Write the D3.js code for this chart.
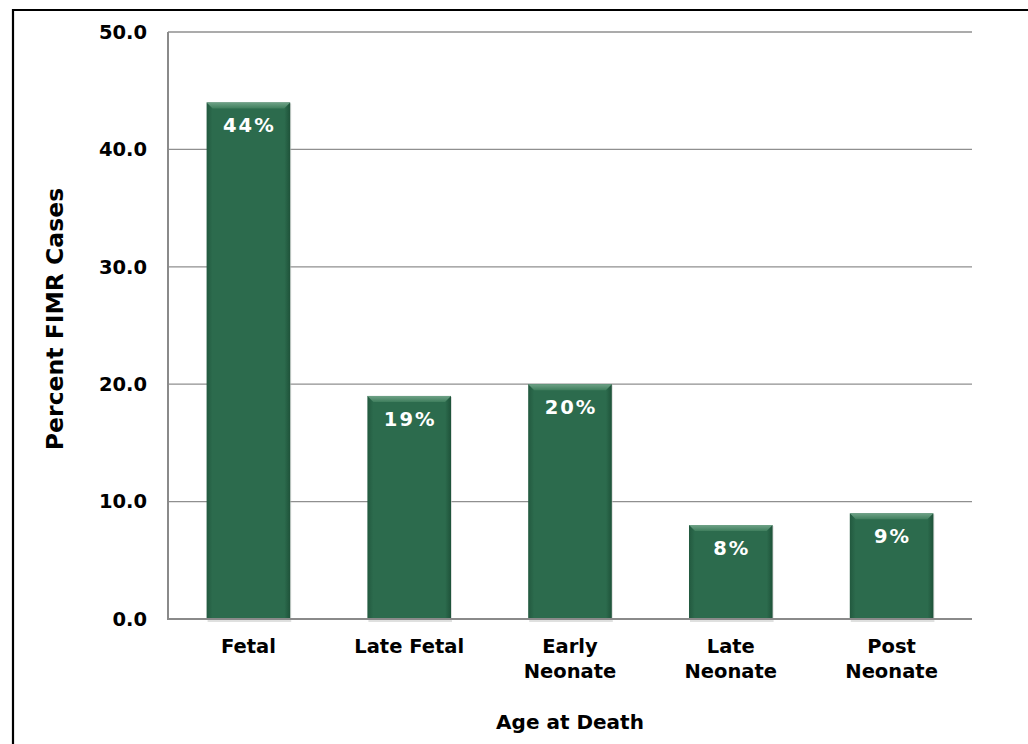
<!DOCTYPE html>
<html>
<head>
<meta charset="utf-8">
<script src="https://cdn.jsdelivr.net/npm/d3@7"></script>
<style>
  html, body { margin: 0; padding: 0; background: #fff; }
  svg { display: block; font-family: "DejaVu Sans", Verdana, sans-serif; font-weight: bold; }
</style>
</head>
<body>
<svg id="chart" width="1028" height="744"></svg>
<script>
// Share of FIMR cases by age at death
const categories = [["Fetal"], ["Late Fetal"], ["Early", "Neonate"], ["Late", "Neonate"], ["Post", "Neonate"]];
const values = [44, 19, 20, 8, 9];
const valueLabels = ["44%", "19%", "20%", "8%", "9%"];
const yTicks = [0, 10, 20, 30, 40, 50];

const svg = d3.select("#chart");
const plot = { left: 168, right: 972, top: 32, bottom: 619 };

const x = d3.scaleBand()
  .domain(d3.range(values.length))
  .range([plot.left, plot.right])
  .paddingInner(0.48)
  .paddingOuter(0.24);

const y = d3.scaleLinear().domain([0, 50]).range([plot.bottom, plot.top]);

// outer frame
svg.append("path")
  .attr("d", `M13,744 V10 H1028`)
  .attr("fill", "none")
  .attr("stroke", "#000")
  .attr("stroke-width", 2.2);

// gradients for the bevelled bars
const defs = svg.append("defs");
const sideGrad = defs.append("linearGradient").attr("id", "barSide").attr("x1", 0).attr("x2", 1).attr("y1", 0).attr("y2", 0);
sideGrad.append("stop").attr("offset", "0%").attr("stop-color", "#22593f");
sideGrad.append("stop").attr("offset", "7%").attr("stop-color", "#2c6b4d");
sideGrad.append("stop").attr("offset", "93%").attr("stop-color", "#2c6b4d");
sideGrad.append("stop").attr("offset", "100%").attr("stop-color", "#1e5239");
const topGrad = defs.append("linearGradient").attr("id", "barTop").attr("x1", 0).attr("x2", 0).attr("y1", 0).attr("y2", 1);
topGrad.append("stop").attr("offset", "0%").attr("stop-color", "#6fa287");
topGrad.append("stop").attr("offset", "100%").attr("stop-color", "#3f7e5d");

// horizontal gridlines
svg.append("g")
  .selectAll("line")
  .data(yTicks.filter(d => d > 0))
  .join("line")
  .attr("x1", plot.left).attr("x2", plot.right)
  .attr("y1", d => y(d)).attr("y2", d => y(d))
  .attr("stroke", "#8f8f8f")
  .attr("stroke-width", 1.3);

// y axis (labels only, line drawn separately)
const yAxis = svg.append("g")
  .attr("transform", `translate(${plot.left},0)`)
  .call(d3.axisLeft(y).tickValues(yTicks).tickFormat(d3.format(".1f")).tickSize(0).tickPadding(21));
yAxis.select(".domain").remove();
yAxis.selectAll("text")
  .attr("font-family", "DejaVu Sans, Verdana, sans-serif")
  .attr("font-weight", "bold")
  .attr("font-size", 19.5)
  .attr("fill", "#000");

// bars
const bars = svg.append("g").selectAll("g").data(values).join("g");
bars.append("rect")
  .attr("x", (d, i) => x(i) + 1)
  .attr("y", d => y(d) + 1)
  .attr("width", x.bandwidth())
  .attr("height", d => plot.bottom - y(d) + 2)
  .attr("fill", "#c9ccca")
  .attr("opacity", 0.6);
bars.append("rect")
  .attr("x", (d, i) => x(i))
  .attr("y", d => y(d))
  .attr("width", x.bandwidth())
  .attr("height", d => plot.bottom - y(d))
  .attr("fill", "url(#barSide)");
bars.append("path")
  .attr("d", (d, i) => {
    const x0 = x(i), x1 = x(i) + x.bandwidth(), t = y(d), b = 6;
    return `M${x0},${t} H${x1} L${x1 - b},${t + b} H${x0 + b} Z`;
  })
  .attr("fill", "url(#barTop)");

// value labels inside bars
bars.append("text")
  .attr("x", (d, i) => x(i) + x.bandwidth() / 2 + 1)
  .attr("y", d => y(d) + 30)
  .attr("text-anchor", "middle")
  .attr("font-size", 19.5)
  .attr("letter-spacing", 2)
  .attr("fill", "#fff")
  .text((d, i) => valueLabels[i]);

// axis lines
svg.append("path")
  .attr("d", `M${plot.left},${plot.top} V${plot.bottom} H${plot.right}`)
  .attr("fill", "none")
  .attr("stroke", "#8a8a8a")
  .attr("stroke-width", 2);

// category labels
const xl = svg.append("g").selectAll("text").data(categories).join("text")
  .attr("x", (d, i) => x(i) + x.bandwidth() / 2)
  .attr("y", 653)
  .attr("text-anchor", "middle")
  .attr("font-size", 19.5)
  .attr("fill", "#000");
xl.selectAll("tspan").data(d => d).join("tspan")
  .attr("x", function () { return d3.select(this.parentNode).attr("x"); })
  .attr("dy", (d, j) => j === 0 ? 0 : 25)
  .text(d => d);

// axis titles
svg.append("text")
  .attr("x", 570).attr("y", 729)
  .attr("text-anchor", "middle")
  .attr("font-size", 20)
  .attr("fill", "#000")
  .text("Age at Death");

svg.append("text")
  .attr("transform", `translate(63,319) rotate(-90)`)
  .attr("text-anchor", "middle")
  .attr("font-size", 23.5)
  .attr("fill", "#000")
  .text("Percent FIMR Cases");
</script>
</body>
</html>
